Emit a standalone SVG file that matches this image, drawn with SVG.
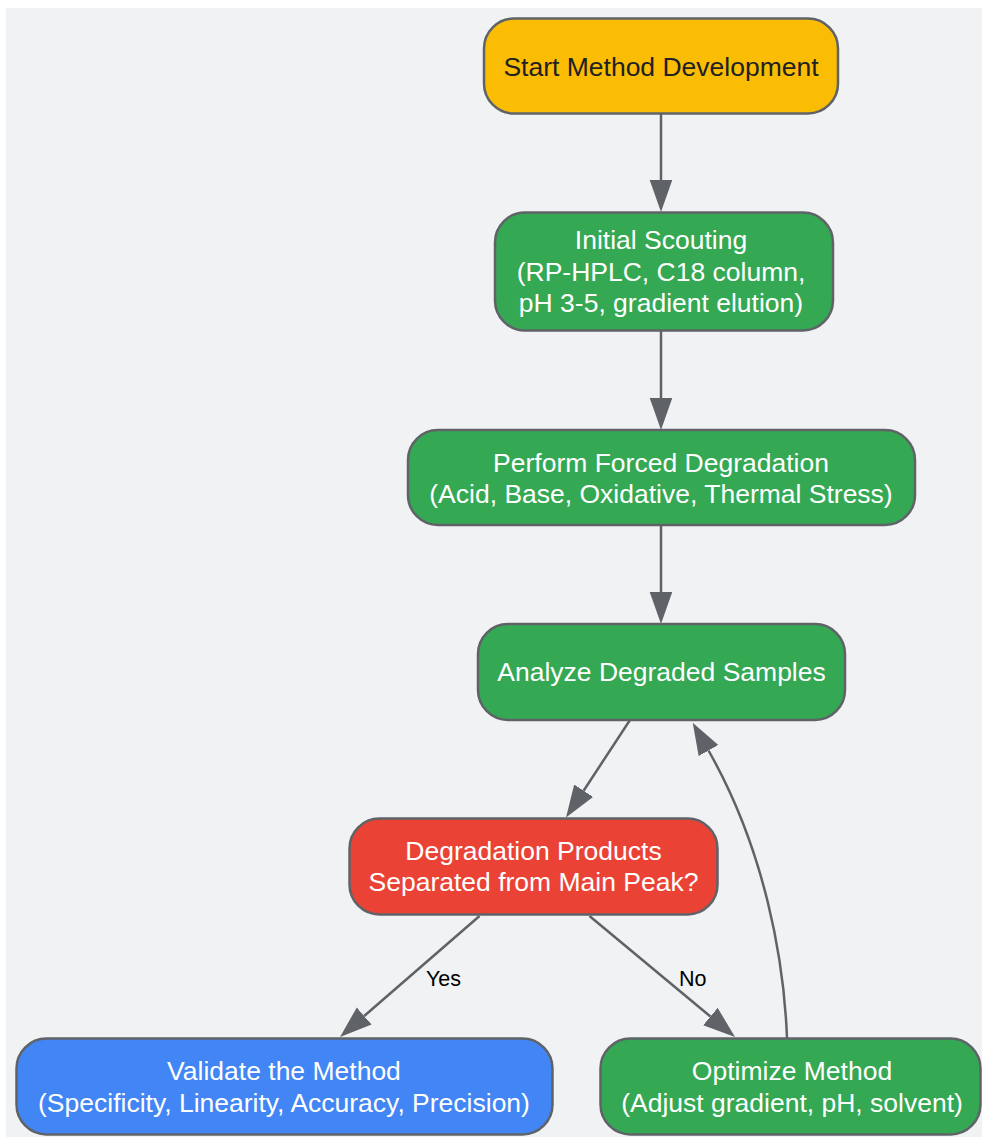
<svg xmlns="http://www.w3.org/2000/svg" width="982" height="1137" viewBox="0 0 982 1137">
<defs>
<style>
.node rect{stroke:#5F6368;stroke-width:2.5}
.t{font-family:"Liberation Sans",Arial,sans-serif;font-size:26.5px;text-anchor:middle;fill:#FFFFFF}
.dark{fill:#202124}
.edge{fill:none;stroke:#5F6368;stroke-width:2.5}
.lbl{font-family:"Liberation Sans",Arial,sans-serif;font-size:21.5px;fill:#000000}
</style>
<marker id="arr" markerUnits="userSpaceOnUse" markerWidth="33" markerHeight="24" refX="0" refY="11.3" orient="auto">
<path d="M0,0 L32,11.3 L0,22.6 Z" fill="#5F6368"/>
</marker>
</defs>
<rect x="0" y="0" width="982" height="1137" fill="#FFFFFF"/>
<rect x="6" y="8" width="976" height="1129" fill="#F1F2F4"/>

<g id="connectors">
<path class="edge" d="M661,114 L661,180" marker-end="url(#arr)"/>
<path class="edge" d="M661,331 L661,398" marker-end="url(#arr)"/>
<path class="edge" d="M661,525 L661,592" marker-end="url(#arr)"/>
<path class="edge" d="M630,720 L583.6,790.7" marker-end="url(#arr)"/>
<path class="edge" d="M787,1038 C784,960 765,850 708.5,750.5" marker-end="url(#arr)"/>
<path class="edge" d="M479.5,916 L364.2,1016" marker-end="url(#arr)"/>
<path class="edge" d="M589.5,916 L710.4,1016.5" marker-end="url(#arr)"/>
<text class="lbl" x="426" y="986">Yes</text>
<text class="lbl" x="679" y="986">No</text>
</g>

<g id="start" class="node">
<rect x="484" y="18.5" width="354" height="95" rx="30" ry="30" fill="#FBBC04"/>
<text class="t dark" x="661" y="76">Start Method Development</text>
</g>

<g id="scouting" class="node">
<rect x="495" y="212.5" width="338" height="118" rx="30" ry="30" fill="#34A853"/>
<text class="t" x="661" y="249">Initial Scouting</text>
<text class="t" x="661" y="280.5">(RP-HPLC, C18 column,</text>
<text class="t" x="661" y="312">pH 3-5, gradient elution)</text>
</g>

<g id="degradation" class="node">
<rect x="408" y="430" width="507" height="95" rx="30" ry="30" fill="#34A853"/>
<text class="t" x="661" y="471.5">Perform Forced Degradation</text>
<text class="t" x="661" y="502.5">(Acid, Base, Oxidative, Thermal Stress)</text>
</g>

<g id="analyze" class="node">
<rect x="478" y="624" width="367" height="96" rx="30" ry="30" fill="#34A853"/>
<text class="t" x="661.5" y="681">Analyze Degraded Samples</text>
</g>

<g id="decision" class="node">
<rect x="349.5" y="818.5" width="368" height="96" rx="30" ry="30" fill="#EA4335"/>
<text class="t" x="533.5" y="860">Degradation Products</text>
<text class="t" x="533.5" y="891">Separated from Main Peak?</text>
</g>

<g id="validate" class="node">
<rect x="16.5" y="1038.5" width="536" height="96" rx="30" ry="30" fill="#4285F4"/>
<text class="t" x="284" y="1080">Validate the Method</text>
<text class="t" x="284" y="1111.5">(Specificity, Linearity, Accuracy, Precision)</text>
</g>

<g id="optimize" class="node">
<rect x="600.5" y="1038.5" width="380" height="96" rx="30" ry="30" fill="#34A853"/>
<text class="t" x="792" y="1080">Optimize Method</text>
<text class="t" x="792" y="1111.5">(Adjust gradient, pH, solvent)</text>
</g>
</svg>
